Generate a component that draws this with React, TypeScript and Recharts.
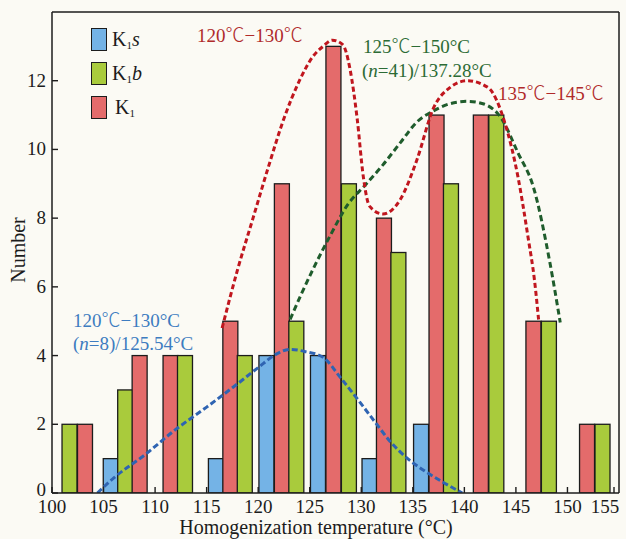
import { Bar, Cell, ComposedChart, Legend, Line, ReferenceLine, XAxis, YAxis } from 'recharts'

const FONT = '"Liberation Serif", "DejaVu Serif", serif'
const CJK = '"Noto Sans CJK SC", "Noto Sans CJK JP", sans-serif'

// bar positions (°C) and counts per sample group
const K1S_T = [105.7, 115.9, 120.8, 125.8, 130.8, 135.8]
const K1S_N = [1, 1, 4, 4, 1, 2]
const K1B_T = [101.7, 107.1, 112.9, 118.7, 123.7, 128.8, 133.6, 138.7, 143.1, 148.2, 153.4]
const K1B_N = [2, 3, 4, 4, 5, 9, 7, 9, 11, 5, 2]
const K1_T = [103.2, 108.5, 111.5, 117.3, 122.3, 127.3, 132.2, 137.3, 141.6, 146.7, 151.9]
const K1_N = [2, 4, 4, 5, 9, 13, 8, 11, 11, 5, 2]

// fitted curves
const BLUE_FIT_T = [104.4, 106, 109, 112, 115, 118, 120, 121.8, 123.1, 124.5, 126.3, 128, 129.9, 131.5, 132.8, 134.5, 136, 138, 139.8]
const BLUE_FIT_N = [0, 0.44, 1.11, 1.85, 2.5, 3.18, 3.65, 4.05, 4.18, 4.12, 3.95, 3.35, 2.63, 2.0, 1.5, 1.0, 0.67, 0.3, 0]
const RED_FIT_T = [116.5, 118, 119.5, 121, 122.5, 124, 125.3, 126.3, 127.2, 128.2, 128.9, 129.6, 130.2, 130.8, 132.1, 133.8, 135.4, 137, 138.6, 140.3, 142.3, 143.9, 145.2, 146.2, 146.8, 147.2]
const RED_FIT_N = [4.8, 6.5, 8.0, 9.5, 10.9, 12.0, 12.7, 13.0, 13.18, 13.05, 12.35, 10.9, 9.2, 8.35, 8.12, 8.55, 9.7, 11.2, 11.8, 12.0, 11.8, 10.8, 9.2, 7.4, 6.2, 5.05]
const GREEN_FIT_T = [123.1, 124.2, 125.3, 127, 128.7, 130.5, 132.1, 133.8, 135.4, 137, 138.6, 140.3, 141.8, 143.6, 145.2, 146.7, 148.3, 149.3]
const GREEN_FIT_N = [5.05, 5.8, 6.5, 7.5, 8.4, 9.0, 9.55, 10.2, 10.8, 11.12, 11.33, 11.4, 11.33, 10.9, 9.9, 8.9, 6.7, 4.96]

const X_TICKS = [100, 105, 110, 115, 120, 125, 130, 135, 140, 145, 150, 155]
const Y_TICKS = [0, 2, 4, 6, 8, 10, 12]

const SERIES = [
  { key: 's', t: K1S_T, n: K1S_N, fill: '#74b3e6' },
  { key: 'b', t: K1B_T, n: K1B_N, fill: '#a9cb3c' },
  { key: '', t: K1_T, n: K1_N, fill: '#e46b6b' },
]

const barData = SERIES.flatMap((s) => s.t.map((t, i) => ({ t, n: s.n[i], fill: s.fill }))).sort((a, b) => a.t - b.t)

const toPoints = (ts: number[], ns: number[]) => ts.map((t, i) => ({ t, n: ns[i] }))

const INK = '#1c1c1c'
const BAR_W = 15

// the ℃ sign is set in the CJK font, like the original figure
function deg(str: string) {
  return str.split(/(℃)/).map((part, i) =>
    part === '℃' ? (
      <tspan key={i} fontFamily={CJK} fontWeight={300}>
        ℃
      </tspan>
    ) : (
      part
    ),
  )
}

function XTick({ x, y, payload }: any) {
  const last = payload.value === 155
  return (
    <g>
      <line x1={x} x2={x} y1={y} y2={y - 6} stroke={INK} strokeWidth={1.4} />
      <text x={last ? x - 9 : x} y={y + 20} textAnchor="middle" fontSize={19} fontFamily={FONT} fill={INK}>
        {payload.value}
      </text>
    </g>
  )
}

function YTick({ x, y, payload }: any) {
  return (
    <g>
      <line x1={x} x2={x + 6} y1={y} y2={y} stroke={INK} strokeWidth={1.4} />
      <text x={x - 6} y={payload.value === 0 ? y + 3 : y + 6} textAnchor="end" fontSize={19} fontFamily={FONT} fill={INK}>
        {payload.value}
      </text>
    </g>
  )
}

// the numeric axis squeezes the band, so re-centre each bar at its own width
function BarShape(props: any) {
  const { x, y, width, height, fill } = props
  if (!height) return null
  const cx = x + width / 2
  return <rect x={cx - BAR_W / 2} y={y} width={BAR_W} height={height} fill={fill} stroke={INK} strokeWidth={1.3} />
}

function LegendBox() {
  return (
    <div style={{ fontFamily: FONT, fontSize: 20, color: INK }}>
      {SERIES.map((s) => (
        <div key={s.key} style={{ display: 'flex', alignItems: 'center', height: 34 }}>
          <span
            style={{
              display: 'inline-block',
              width: 16,
              height: 23,
              background: s.fill,
              border: `1.5px solid ${INK}`,
              boxSizing: 'border-box',
            }}
          />
          <span style={{ marginLeft: s.key ? 5 : 8 }}>
            K<sub style={{ fontSize: 11, verticalAlign: '-3px' }}>1</sub>
            <i>{s.key}</i>
          </span>
        </div>
      ))}
    </div>
  )
}

export default function App() {
  return (
    <div style={{ position: 'absolute', left: 0, top: 0, width: 626, height: 539, background: '#fbfaf4' }}>
      <ComposedChart width={626} height={539} data={barData} margin={{ top: 12, right: 7, bottom: 0, left: 0 }}>
        <XAxis
          dataKey="t"
          type="number"
          domain={[100, 155]}
          allowDataOverflow
          ticks={X_TICKS}
          height={46}
          tickSize={0}
          tickMargin={0}
          tickLine={false}
          tick={<XTick />}
          axisLine={{ stroke: INK, strokeWidth: 1.5 }}
        />
        <YAxis
          type="number"
          domain={[0, 14]}
          allowDataOverflow
          ticks={Y_TICKS}
          width={52}
          tickSize={0}
          tickMargin={0}
          tickLine={false}
          tick={<YTick />}
          axisLine={{ stroke: INK, strokeWidth: 1.5 }}
        />
        <ReferenceLine y={14} stroke={INK} strokeWidth={1.5} />
        <ReferenceLine x={155} stroke={INK} strokeWidth={1.5} />
        <Legend
          layout="vertical"
          align="center"
          verticalAlign="middle"
          content={<LegendBox />}
          wrapperStyle={{ top: 22, left: 91, width: 'auto' }}
        />
        <Bar dataKey="n" shape={BarShape} isAnimationActive={false}>
          {barData.map((d, i) => (
            <Cell key={i} fill={d.fill} />
          ))}
        </Bar>
        <Line
          data={toPoints(BLUE_FIT_T, BLUE_FIT_N)}
          dataKey="n"
          type="monotone"
          stroke="#2f64b2"
          strokeWidth={3}
          strokeDasharray="6 3"
          dot={false}
          activeDot={false}
          isAnimationActive={false}
        />
        <Line
          data={toPoints(GREEN_FIT_T, GREEN_FIT_N)}
          dataKey="n"
          type="monotone"
          stroke="#1f5c2c"
          strokeWidth={3}
          strokeDasharray="6 3.5"
          dot={false}
          activeDot={false}
          isAnimationActive={false}
        />
        <Line
          data={toPoints(RED_FIT_T, RED_FIT_N)}
          dataKey="n"
          type="monotone"
          stroke="#c0161e"
          strokeWidth={3}
          strokeDasharray="5 3"
          dot={false}
          activeDot={false}
          isAnimationActive={false}
        />
        <g fontFamily={FONT} fontSize={19}>
          <text x={197} y={42} fill="#b02a2a">{deg('120℃−130℃')}</text>
          <text x={363} y={53} fill="#2c6b35">{deg('125℃−150°C')}</text>
          <text x={362} y={77} fill="#2c6b35">
            (<tspan fontStyle="italic">n</tspan>=41)/137.28°C
          </text>
          <text x={498} y={100} fill="#b02a2a">{deg('135℃−145℃')}</text>
          <text x={73} y={327} fill="#3d7cc0">{deg('120℃−130°C')}</text>
          <text x={73} y={350} fill="#3d7cc0">
            (<tspan fontStyle="italic">n</tspan>=8)/125.54°C
          </text>
          <text x={316} y={534} textAnchor="middle" fill={INK} fontSize={20}>
            Homogenization  temperature (°C)
          </text>
          <text x={25} y={250} textAnchor="middle" fill={INK} fontSize={20} transform="rotate(-90 25 250)">
            Number
          </text>
        </g>
      </ComposedChart>
    </div>
  )
}
